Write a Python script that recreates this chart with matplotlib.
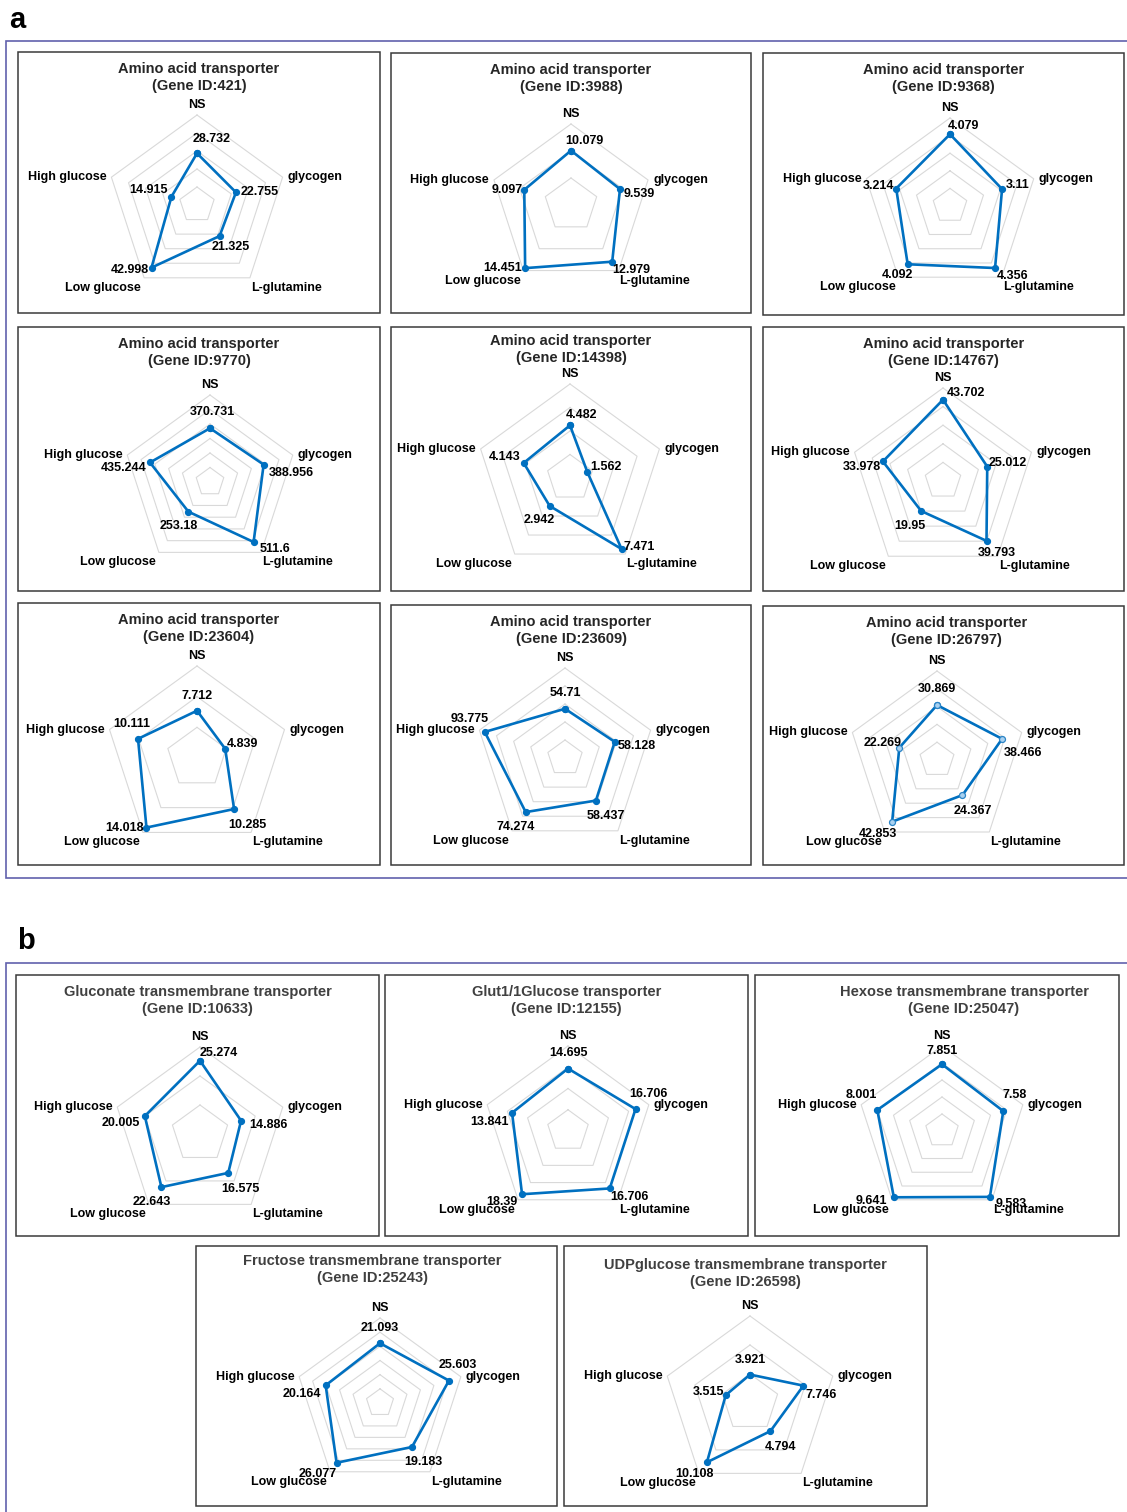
import matplotlib.pyplot as plt
import numpy as np
from matplotlib.patches import Rectangle

plt.rcParams['font.family'] = ['Liberation Sans', 'DejaVu Sans']
plt.rcParams['font.weight'] = 'bold'

W, H = 1127, 1512

# ---- data -------------------------------------------------------------
axis_names = ["NS", "glycogen", "L-glutamine", "Low glucose", "High glucose"]

transporters = ["Amino acid transporter"] * 9 + [
    "Gluconate transmembrane transporter",
    "Glut1/1Glucose transporter",
    "Hexose transmembrane transporter",
    "Fructose transmembrane transporter",
    "UDPglucose transmembrane transporter",
]
gene_ids = ["421", "3988", "9368", "9770", "14398", "14767", "23604", "23609",
            "26797", "10633", "12155", "25047", "25243", "26598"]

ns_vals = [28.732, 10.079, 4.079, 370.731, 4.482, 43.702, 7.712, 54.71,
           30.869, 25.274, 14.695, 7.851, 21.093, 3.921]
glycogen_vals = [22.755, 9.539, 3.11, 388.956, 1.562, 25.012, 4.839, 58.128,
                 38.466, 14.886, 16.706, 7.58, 25.603, 7.746]
glutamine_vals = [21.325, 12.979, 4.356, 511.6, 7.471, 39.793, 10.285, 58.437,
                  24.367, 16.575, 16.706, 9.583, 19.183, 4.794]
low_glucose_vals = [42.998, 14.451, 4.092, 253.18, 2.942, 19.95, 14.018, 74.274,
                    42.853, 22.643, 18.39, 9.641, 26.077, 10.108]
high_glucose_vals = [14.915, 9.097, 3.214, 435.244, 4.143, 33.978, 10.111, 93.775,
                     22.269, 20.005, 13.841, 8.001, 20.164, 3.515]

# radial axis: maximum and major unit of each chart
scale_max = [50, 15, 5, 600, 8, 50, 15, 100, 50, 30, 20, 10, 30, 12]
scale_step = [10, 5, 1, 100, 2, 10, 5, 20, 10, 10, 5, 2, 5, 4]

# ---- layout (pixels) --------------------------------------------------
boxes = [(18, 52, 380, 313), (391, 53, 751, 313), (763, 53, 1124, 315),
         (18, 327, 380, 591), (391, 327, 751, 591), (763, 327, 1124, 591),
         (18, 603, 380, 865), (391, 605, 751, 865), (763, 606, 1124, 865),
         (16, 975, 379, 1236), (385, 975, 748, 1236), (755, 975, 1119, 1236),
         (196, 1246, 557, 1506), (564, 1246, 927, 1506)]
centers = [(197, 205), (571, 205), (950, 206),
           (210, 482), (570, 478), (943, 481),
           (197, 758), (565, 758), (937, 760),
           (200, 1134), (568, 1131), (942, 1131),
           (380, 1403), (750, 1403)]
radii = [90, 81, 88, 87, 94, 93, 92, 90, 89, 87, 85, 85, 85, 87]
title_dx = [0, 0, 0, 0, 0, 0, 0, 0, 3, 0, 0, 27, -4, 0]
title_dy = [10, 10, 10, 10, 7, 10, 10, 10, 10, 10, 10, 10, 8, 12]

# value label placement per chart: (dx, dy, ha, va) for each axis
value_offsets = [
    [(15, 8, 'center', 'bottom'), (5, 0, 'left', 'center'), (-8, -5, 'left', 'top'),
     (-3, -2, 'right', 'center'), (-4, 7, 'right', 'center')],
    [(13, 4, 'center', 'bottom'), (4, -5, 'left', 'center'), (0, -2, 'left', 'top'),
     (-3, 0, 'right', 'center'), (-2, 0, 'right', 'center')],
    [(13, 2, 'center', 'bottom'), (4, 4, 'left', 'center'), (2, -2, 'left', 'top'),
     (5, -5, 'right', 'top'), (-2, 3, 'right', 'center')],
    [(2, 10, 'center', 'bottom'), (5, -8, 'left', 'center'), (6, -1, 'left', 'top'),
     (9, -8, 'right', 'top'), (-3, -6, 'right', 'center')],
    [(11, 4, 'center', 'bottom'), (3, 5, 'left', 'center'), (2, 2, 'left', 'center'),
     (5, -8, 'right', 'top'), (-3, 6, 'right', 'center')],
    [(4, 7, 'left', 'center'), (1, 4, 'left', 'center'), (-9, -6, 'left', 'top'),
     (4, -9, 'right', 'top'), (-2, -6, 'right', 'center')],
    [(0, 9, 'center', 'bottom'), (2, 5, 'left', 'center'), (-6, -10, 'left', 'top'),
     (-3, 0, 'right', 'center'), (12, 9, 'right', 'bottom')],
    [(0, 10, 'center', 'bottom'), (3, -4, 'left', 'center'), (-9, -9, 'left', 'top'),
     (-10, -9, 'center', 'top'), (4, 7, 'right', 'bottom')],
    [(0, 10, 'center', 'bottom'), (2, -8, 'left', 'top'), (-9, -10, 'left', 'top'),
     (5, -6, 'right', 'top'), (2, 5, 'right', 'center')],
    [(0, 2, 'left', 'bottom'), (8, -4, 'left', 'center'), (-7, -10, 'left', 'top'),
     (10, -9, 'right', 'top'), (-5, -7, 'right', 'center')],
    [(0, 10, 'center', 'bottom'), (13, 9, 'center', 'bottom'), (1, -3, 'left', 'top'),
     (-5, -2, 'right', 'top'), (-3, -9, 'right', 'center')],
    [(0, 7, 'center', 'bottom'), (11, 10, 'center', 'bottom'), (6, -1, 'left', 'top'),
     (-7, -4, 'right', 'center'), (0, 9, 'right', 'bottom')],
    [(0, 9, 'center', 'bottom'), (9, 10, 'center', 'bottom'), (-8, -9, 'left', 'top'),
     (0, -5, 'right', 'top'), (-5, -9, 'right', 'center')],
    [(0, 9, 'center', 'bottom'), (2, -9, 'left', 'center'), (-6, -10, 'left', 'top'),
     (7, -6, 'right', 'top'), (-1, 3, 'right', 'center')],
]
category_offsets = [(0, 4, 'center', 'bottom'), (5, 0, 'left', 'center'),
                    (1, -4, 'left', 'top'), (-3, -4, 'right', 'top'),
                    (-5, 0, 'right', 'center')]

LINE = '#0070c0'
GRID = '#d9d9d9'
FRAME = '#6161ad'

fig = plt.figure(figsize=(W / 100, H / 100), dpi=100)

# background layer in pixel coordinates for frames, boxes and titles
bg = fig.add_axes([0, 0, 1, 1])
bg.set_xlim(0, W)
bg.set_ylim(H, 0)
bg.axis('off')

# group frames (they run off the right edge)
bg.plot([W + 5, 6, 6, W + 5], [41, 41, 878, 878], color=FRAME, lw=1.2,
        clip_on=False, solid_joinstyle='miter')
bg.plot([W + 5, 6, 6], [963, 963, H + 5], color=FRAME, lw=1.2,
        clip_on=False, solid_joinstyle='miter')
bg.text(9, 20, "a", fontsize=21, fontweight='bold', va='center', ha='left')
bg.text(17, 941, "b", fontsize=21, fontweight='bold', va='center', ha='left')

theta = np.deg2rad(np.arange(5) * 72.0)
theta_closed = np.append(theta, theta[0])

for i in range(len(gene_ids)):
    x0, y0, x1, y1 = boxes[i]
    bg.add_patch(Rectangle((x0, y0), x1 - x0, y1 - y0, fill=False,
                           edgecolor='#3a3a3a', lw=1.1))
    title_color = '#262626' if i < 9 else '#404040'
    bg.text((x0 + x1) / 2 + title_dx[i], y0 + title_dy[i],
            f"{transporters[i]}\n(Gene ID:{gene_ids[i]})",
            ha='center', va='top', fontsize=10.5, fontweight='bold',
            color=title_color, linespacing=1.3)

    cx, cy = centers[i]
    R = radii[i]
    ax = fig.add_axes([(cx - R) / W, 1 - (cy + R) / H, 2 * R / W, 2 * R / H],
                      projection='polar')
    ax.set_theta_zero_location('N')
    ax.set_theta_direction(-1)
    ax.set_ylim(0, scale_max[i])
    ax.grid(False)
    ax.set_xticks([])
    ax.set_yticks([])
    ax.spines['polar'].set_visible(False)
    ax.set_facecolor('none')

    # pentagon gridlines
    for level in np.arange(scale_step[i], scale_max[i] + scale_step[i] / 2,
                           scale_step[i]):
        ax.plot(theta_closed, np.full(6, level), color=GRID, lw=0.8,
                clip_on=False, zorder=1)

    vals = [ns_vals[i], glycogen_vals[i], glutamine_vals[i],
            low_glucose_vals[i], high_glucose_vals[i]]
    vals_closed = vals + vals[:1]
    if gene_ids[i] == "26797":
        mfc, mec = '#a9d1f0', '#2b84c6'
    else:
        mfc, mec = LINE, LINE
    ax.plot(theta_closed, vals_closed, color=LINE, lw=1.9, marker='o',
            markersize=4.3, markerfacecolor=mfc, markeredgecolor=mec,
            markeredgewidth=0.9, clip_on=False, zorder=3)

    for k in range(5):
        dx, dy, ha, va = value_offsets[i][k]
        ax.annotate(f"{vals[k]:g}", xy=(theta[k], vals[k]), xytext=(dx, dy),
                    textcoords='offset pixels', ha=ha, va=va, fontsize=9,
                    fontweight='bold', annotation_clip=False, zorder=4)
        cdx, cdy, cha, cva = category_offsets[k]
        ax.annotate(axis_names[k], xy=(theta[k], scale_max[i]),
                    xytext=(cdx, cdy), textcoords='offset pixels', ha=cha,
                    va=cva, fontsize=9, fontweight='bold',
                    annotation_clip=False, zorder=4)

fig.savefig("out.png", dpi=100)
